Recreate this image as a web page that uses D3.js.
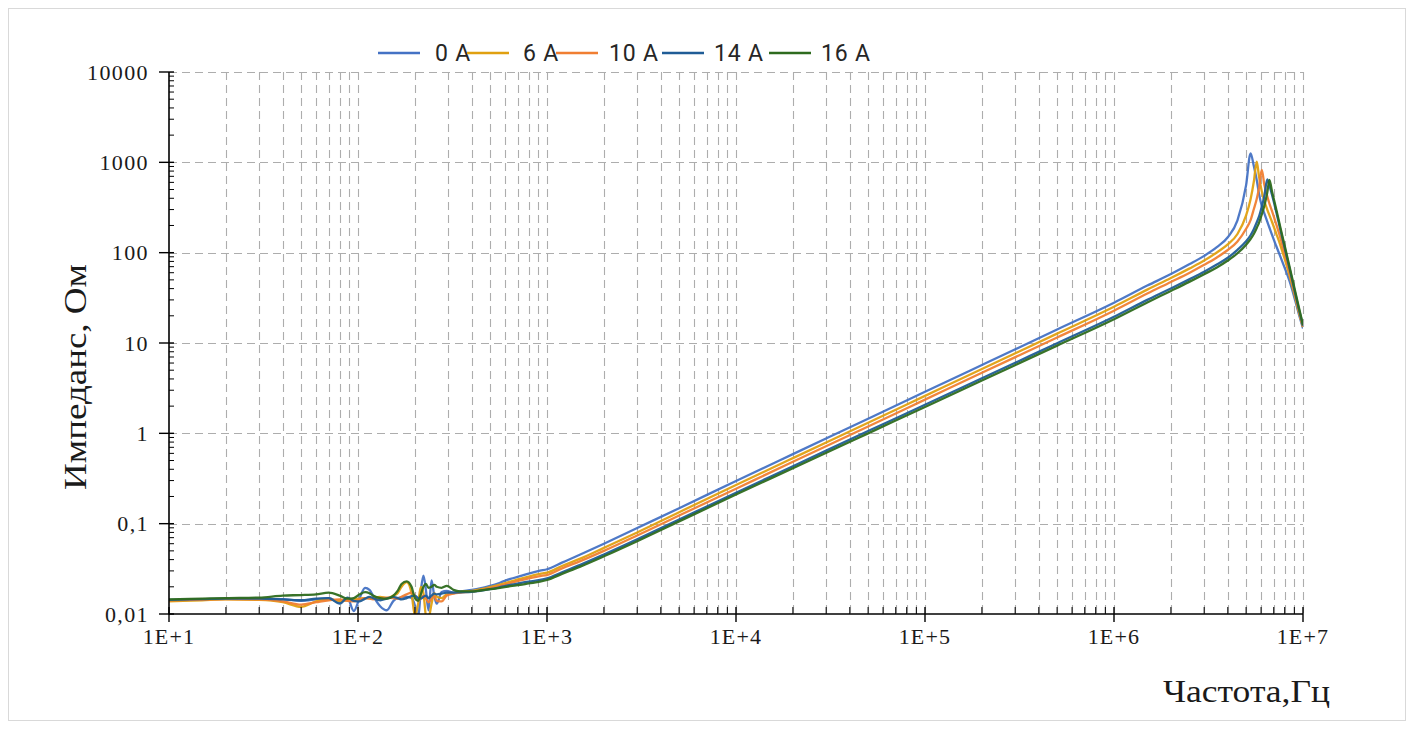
<!DOCTYPE html>
<html>
<head>
<meta charset="utf-8">
<script src="https://cdn.jsdelivr.net/npm/d3@7/dist/d3.min.js"></script>
<style>
  html, body { margin: 0; padding: 0; background: #ffffff; }
  svg { display: block; }
</style>
</head>
<body>
<svg id="chart" width="1414" height="729"></svg>
<script>
// ---------- DATA ----------
const freqHz = [10, 15, 20, 30, 40, 50, 60, 70, 80, 88,
  95, 102, 109, 115, 120, 131, 142, 154, 162, 170,
  181, 192, 200, 208, 215, 222, 229, 236, 245, 253,
  261, 277, 295, 320, 347, 400, 442, 500, 564, 640,
  720, 800, 918,
  1000, 1200, 1500, 2000, 3000, 5000,
  1e4, 2e4, 5e4, 1e5, 2e5, 5e5, 1e6,
  1.5e6, 2e6, 2.5e6, 3e6, 3.5e6, 4e6, 4.5e6, 5e6,
  5.28e6, 5.5e6, 5.69e6, 5.85e6, 6.05e6, 6.25e6, 6.47e6, 6.64e6,
  6.85e6, 7.2e6, 7.6e6, 8e6, 8.5e6, 9e6, 9.5e6, 1e7];

const z0A = [0.0140,0.0145,0.0147,0.0147,0.0146,0.0140,0.0145,0.0150,0.0135,0.0150,
  0.0108,0.0150,0.0195,0.0185,0.0160,0.0122,0.0110,0.0140,0.0150,0.0152,
  0.0155,0.0150,0.0125,0.0090,0.0180,0.0265,0.0180,0.0110,0.0235,0.0160,
  0.0130,0.0175,0.0180,0.0172,0.0178,0.0185,0.0192,0.0205,0.0222,0.0245,
  0.0262,0.0280,0.0302,
  0.0313,0.0370,0.0455,0.0600,0.0895,0.148,
  0.297,0.589,1.45,2.88,5.71,14.1,27.9,
  43.2,58.0,74.4,92.2,115,148,228,560,
  1259,900,640,450,330,270,220,190,
  158,120,90,68,48,32,21,14.5];

const z6A = [0.0138,0.0142,0.0145,0.0143,0.0135,0.0120,0.0138,0.0145,0.0140,0.0142,
  0.0145,0.0148,0.0150,0.0150,0.0152,0.0155,0.0150,0.0160,0.0170,0.0200,
  0.0225,0.0170,0.0095,0.0130,0.0200,0.0170,0.0095,0.0090,0.0130,0.0170,
  0.0155,0.0150,0.0165,0.0170,0.0175,0.0180,0.0187,0.0198,0.0212,0.0228,
  0.0245,0.0260,0.0278,
  0.0287,0.034,0.041,0.054,0.080,0.134,
  0.268,0.532,1.31,2.60,5.16,12.7,25.2,
  39.0,52.4,66.6,81.8,100.6,123.5,161,259,
  390,622,1016,700,480,370,300,260,
  220,165,120,85,55,35,22,15.0];

const z10A = [0.0142,0.0144,0.0146,0.0145,0.0138,0.0127,0.0135,0.0142,0.0145,0.0140,
  0.0138,0.0145,0.0150,0.0148,0.0145,0.0150,0.0152,0.0150,0.0148,0.0155,
  0.0165,0.0172,0.0160,0.0140,0.0150,0.0160,0.0148,0.0135,0.0148,0.0158,
  0.0140,0.0138,0.0160,0.0168,0.0172,0.0177,0.0183,0.0193,0.0205,0.0220,
  0.0235,0.0248,0.0263,
  0.027,0.032,0.0385,0.050,0.074,0.123,
  0.244,0.484,1.19,2.36,4.68,11.5,22.8,
  35.3,47.4,59.7,73.3,88.6,107,133,184,
  229,306,392,521,823,560,420,350,
  290,210,145,98,60,37,23,15.2];

const z14A = [0.0143,0.0146,0.0148,0.0148,0.0145,0.0142,0.0148,0.0150,0.0130,0.0152,
  0.0140,0.0138,0.0148,0.0155,0.0150,0.0142,0.0148,0.0155,0.0150,0.0145,
  0.0150,0.0158,0.0160,0.0150,0.0148,0.0155,0.0160,0.0150,0.0160,0.0168,
  0.0165,0.0168,0.0172,0.0172,0.0174,0.0176,0.0180,0.0188,0.0198,0.0210,
  0.0220,0.0228,0.0238,
  0.0248,0.029,0.035,0.0455,0.067,0.111,
  0.22,0.432,1.06,2.07,4.07,9.93,19.5,
  30.0,40.1,50.6,61.5,73.8,87.9,107.5,133.5,
  156,183,216,250,322,428,649,560,
  440,290,178,113,66,39,24,15.5];

const z16A = [0.0145,0.0148,0.0150,0.0152,0.0160,0.0162,0.0165,0.0172,0.0160,0.0148,
  0.0150,0.0165,0.0175,0.0170,0.0160,0.0150,0.0148,0.0160,0.0180,0.0215,
  0.0230,0.0200,0.0150,0.0140,0.0165,0.0200,0.0215,0.0195,0.0200,0.0210,
  0.0200,0.0195,0.0205,0.0185,0.0178,0.0178,0.0182,0.0188,0.0195,0.0203,
  0.0210,0.0218,0.0228,
  0.0238,0.0278,0.0335,0.0435,0.064,0.106,
  0.21,0.411,1.0,1.96,3.84,9.35,18.3,
  28.1,37.7,47.5,57.8,68.6,81.8,98.5,122.6,
  141.6,162,188,214,265,334,462,640,
  479,309,188,119,69,41,25,15.8];

const seriesNames = ["0 A", "6 A", "10 A", "14 A", "16 A"];
const seriesValues = [z0A, z6A, z10A, z14A, z16A];
const seriesColors = ["#4472C4", "#E0A010", "#F07E32", "#1F5C96", "#2E6B1E"];

const xTickValues = [1e1, 1e2, 1e3, 1e4, 1e5, 1e6, 1e7];
const xTickLabels = ["1E+1", "1E+2", "1E+3", "1E+4", "1E+5", "1E+6", "1E+7"];
const yTickValues = [0.01, 0.1, 1, 10, 100, 1000, 10000];
const yTickLabels = ["0,01", "0,1", "1", "10", "100", "1000", "10000"];

const xTitle = "Частота,Гц";
const yTitle = "Импеданс, Ом";

// ---------- LAYOUT ----------
const svg = d3.select("#chart");
const W = 1414, H = 729;
const plot = { left: 169, right: 1303, top: 72, bottom: 614 };

const x = d3.scaleLog().domain([10, 1e7]).range([plot.left, plot.right]);
const y = d3.scaleLog().domain([0.01, 1e4]).range([plot.bottom, plot.top]);

svg.append("rect")
  .attr("x", 8.5).attr("y", 8.5)
  .attr("width", W - 17).attr("height", H - 17)
  .attr("fill", "#ffffff")
  .attr("stroke", "#D9D9D9").attr("stroke-width", 1);

const xMinor = [];
for (let d = 1; d <= 6; d++) for (let k = 2; k <= 9; k++) xMinor.push(k * Math.pow(10, d));
const yMinor = [];
for (let d = -2; d <= 3; d++) for (let k = 2; k <= 9; k++) yMinor.push(+(k * Math.pow(10, d)).toPrecision(3));

const grid = svg.append("g").attr("class", "grid");
grid.selectAll("line.vg")
  .data(xMinor.concat(xTickValues.slice(1)))
  .join("line")
  .attr("class", "vg")
  .attr("x1", d => Math.round(x(d)) + 0.5).attr("x2", d => Math.round(x(d)) + 0.5)
  .attr("y1", plot.top).attr("y2", plot.bottom)
  .attr("stroke", "#ADADAD").attr("stroke-width", 1.1)
  .attr("stroke-dasharray", "8,5");
grid.selectAll("line.hg")
  .data(yTickValues.slice(1))
  .join("line")
  .attr("class", "hg")
  .attr("y1", d => Math.round(y(d)) + 0.5).attr("y2", d => Math.round(y(d)) + 0.5)
  .attr("x1", plot.left).attr("x2", plot.right)
  .attr("stroke", "#ADADAD").attr("stroke-width", 1.1)
  .attr("stroke-dasharray", "8,5");

svg.append("clipPath").attr("id", "clip")
  .append("rect")
  .attr("x", plot.left).attr("y", plot.top)
  .attr("width", plot.right - plot.left).attr("height", plot.bottom - plot.top);

const line = d3.line()
  .x(d => x(d[0]))
  .y(d => y(d[1]))
  .curve(d3.curveMonotoneX);

const lines = svg.append("g").attr("clip-path", "url(#clip)");
seriesValues.forEach((vals, i) => {
  const pts = freqHz.map((f, j) => [f, vals[j]]);
  lines.append("path")
    .datum(pts)
    .attr("d", line)
    .attr("fill", "none")
    .attr("stroke", seriesColors[i])
    .attr("stroke-width", 2.3)
    .attr("stroke-linejoin", "round")
    .attr("stroke-opacity", 0.95);
});

const axisG = svg.append("g");
axisG.append("line")
  .attr("x1", plot.left).attr("x2", plot.left)
  .attr("y1", plot.top).attr("y2", plot.bottom + 0.5)
  .attr("stroke", "#000").attr("stroke-width", 1.6);
axisG.append("line")
  .attr("x1", plot.left).attr("x2", plot.right)
  .attr("y1", plot.bottom).attr("y2", plot.bottom)
  .attr("stroke", "#000").attr("stroke-width", 1.6);

axisG.selectAll("line.ymaj").data(yTickValues).join("line")
  .attr("x1", plot.left - 10).attr("x2", plot.left + 5)
  .attr("y1", d => y(d)).attr("y2", d => y(d))
  .attr("stroke", "#000").attr("stroke-width", 1.4);
axisG.selectAll("line.ymin").data(yMinor).join("line")
  .attr("x1", plot.left).attr("x2", plot.left + 5)
  .attr("y1", d => y(d)).attr("y2", d => y(d))
  .attr("stroke", "#000").attr("stroke-width", 1);
axisG.selectAll("line.xmaj").data(xTickValues).join("line")
  .attr("x1", d => x(d)).attr("x2", d => x(d))
  .attr("y1", plot.bottom - 7).attr("y2", plot.bottom + 8)
  .attr("stroke", "#000").attr("stroke-width", 1.4);
axisG.selectAll("line.xmin").data(xMinor).join("line")
  .attr("x1", d => x(d)).attr("x2", d => x(d))
  .attr("y1", plot.bottom - 7).attr("y2", plot.bottom)
  .attr("stroke", "#000").attr("stroke-width", 1);

const serif = "'Liberation Serif', 'DejaVu Serif', serif";
axisG.selectAll("text.ylab").data(yTickValues).join("text")
  .attr("x", plot.left - 20)
  .attr("y", d => y(d))
  .attr("dy", "0.35em")
  .attr("text-anchor", "end")
  .attr("font-family", serif)
  .attr("font-size", 22)
  .attr("letter-spacing", 1.4)
  .attr("fill", "#1a1a1a")
  .text((d, i) => yTickLabels[i]);
axisG.selectAll("text.xlab").data(xTickValues).join("text")
  .attr("x", d => x(d))
  .attr("y", plot.bottom + 30)
  .attr("text-anchor", "middle")
  .attr("font-family", serif)
  .attr("font-size", 22)
  .attr("letter-spacing", 1.2)
  .attr("fill", "#1a1a1a")
  .text((d, i) => xTickLabels[i]);

svg.append("text")
  .attr("transform", `translate(86, 377) rotate(-90)`)
  .attr("text-anchor", "middle")
  .attr("font-family", serif)
  .attr("font-size", 32)
  .attr("textLength", 226)
  .attr("lengthAdjust", "spacingAndGlyphs")
  .attr("fill", "#1a1a1a")
  .text(yTitle);

svg.append("text")
  .attr("x", 1163)
  .attr("y", 702)
  .attr("font-family", serif)
  .attr("font-size", 31)
  .attr("textLength", 167)
  .attr("lengthAdjust", "spacingAndGlyphs")
  .attr("fill", "#1a1a1a")
  .text(xTitle);

const legendItems = [
  { lx: 378, tx: 435 },
  { lx: 467, tx: 523 },
  { lx: 556, tx: 609 },
  { lx: 662, tx: 714 },
  { lx: 769, tx: 821 }
];
const legend = svg.append("g");
seriesNames.forEach((name, i) => {
  const it = legendItems[i];
  legend.append("line")
    .attr("x1", it.lx).attr("x2", it.lx + 42)
    .attr("y1", 53).attr("y2", 53)
    .attr("stroke", seriesColors[i]).attr("stroke-width", 2.3);
  legend.append("text")
    .attr("x", it.tx).attr("y", 53)
    .attr("dy", "0.36em")
    .attr("font-family", "'Liberation Sans Narrow', 'Roboto', 'Liberation Sans', sans-serif")
    .attr("font-size", 23)
    .attr("letter-spacing", 0.8)
    .attr("fill", "#262626")
    .text(name);
});
</script>
</body>
</html>
